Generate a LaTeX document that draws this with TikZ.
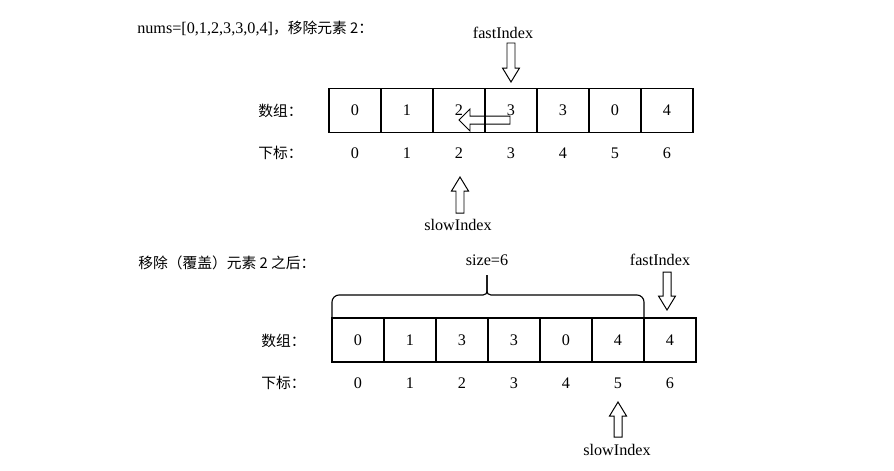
\documentclass[tikz,border=0pt]{standalone}
\usepackage{fontspec}
\setmainfont{Liberation Serif}
\newfontfamily\cjk{Noto Sans CJK SC}
\usetikzlibrary{positioning}

\tikzset{
  cell/.style={draw, line width=0.8pt, minimum width=1.3cm, minimum height=1.1cm,
    inner sep=0pt, outer sep=0pt, font=\fontsize{11.5}{13}\selectfont},
  idx/.style={inner sep=1pt, font=\fontsize{11.5}{13}\selectfont},
  cntext/.style={anchor=west, inner sep=0pt, font=\cjk\fontsize{10.5}{12}\selectfont},
  ptrlabel/.style={inner sep=1pt, font=\fontsize{11.5}{13}\selectfont},
  arrowline/.style={line width=0.7pt, line join=miter},
  braceline/.style={line width=0.8pt, rounded corners=5pt},
  pics/hollowarrow/.style args={#1/#2/#3}{code={
    \draw[arrowline] (0,0) -- (-#2,#3) -- (-#2,4) -- (-#1,4) -- (-#1,-4)
      -- (-#2,-4) -- (-#2,-#3) -- cycle;
  }}
}

\begin{document}
\begin{tikzpicture}[x=0.025cm, y=-0.025cm]
\useasboundingbox (0,0) rectangle (894,470);

% array before removing
\node[cntext] (title1) at (137,28) {{\rmfamily\fontsize{11.5}{13}\selectfont nums=[0,1,2,3,3,0,4]}，移除元素 2：};
\node[cntext] (arrLblA) at (258,111) {数组：};
\node[cntext] (idxLblA) at (258,153) {下标：};

\foreach \v [count=\i from 0] in {0,1,2,3,3,0,4}
  \node[cell] (a\i) at (355+52*\i,110.5) {\v};
\foreach \i in {0,...,6}
  \node[idx] (ia\i) at (355+52*\i,153) {\i};

\node[ptrlabel] (fastA) at (503,33) {fastIndex};
\node[ptrlabel] (slowA) at (458,225) {slowIndex};
\coordinate (fastTipA) at (511,82);
\coordinate (slowTipA) at (460,177);
\coordinate (moveTip) at (459,120);

\pic[rotate=-90] at (fastTipA) {hollowarrow=39/14/8.5};
\pic[rotate=90] at (slowTipA) {hollowarrow=36/14/8.5};
\pic[rotate=180] at (moveTip) {hollowarrow=51/11/11};

% array after removing
\node[cntext] (title2) at (138,263) {移除（覆盖）元素 2 之后：};
\node[cntext] (arrLblB) at (261,341) {数组：};
\node[cntext] (idxLblB) at (261,383) {下标：};

\foreach \v [count=\i from 0] in {0,1,3,3,0,4,4}
  \node[cell] (b\i) at (358+52*\i,340) {\v};
\foreach \i in {0,...,6}
  \node[idx] (ib\i) at (358+52*\i,383) {\i};

\node[ptrlabel] (sizeLbl) at (487,260) {size=6};
\coordinate (braceTip) at (487,275);
\draw[braceline] (b0.north west) -- (332,295) -- (476,295)
  .. controls (486,295) and (487,293) .. (487,284) -- (braceTip);
\draw[braceline] (b5.north east) -- (644,295) -- (498,295)
  .. controls (488,295) and (487,293) .. (487,284) -- (braceTip);

\node[ptrlabel] (fastB) at (660,260) {fastIndex};
\node[ptrlabel] (slowB) at (617,450) {slowIndex};
\coordinate (fastTipB) at (667,310);
\coordinate (slowTipB) at (618,402);

\pic[rotate=-90] at (fastTipB) {hollowarrow=38/14/8.5};
\pic[rotate=90] at (slowTipB) {hollowarrow=35/14/8.5};
\end{tikzpicture}
\end{document}
